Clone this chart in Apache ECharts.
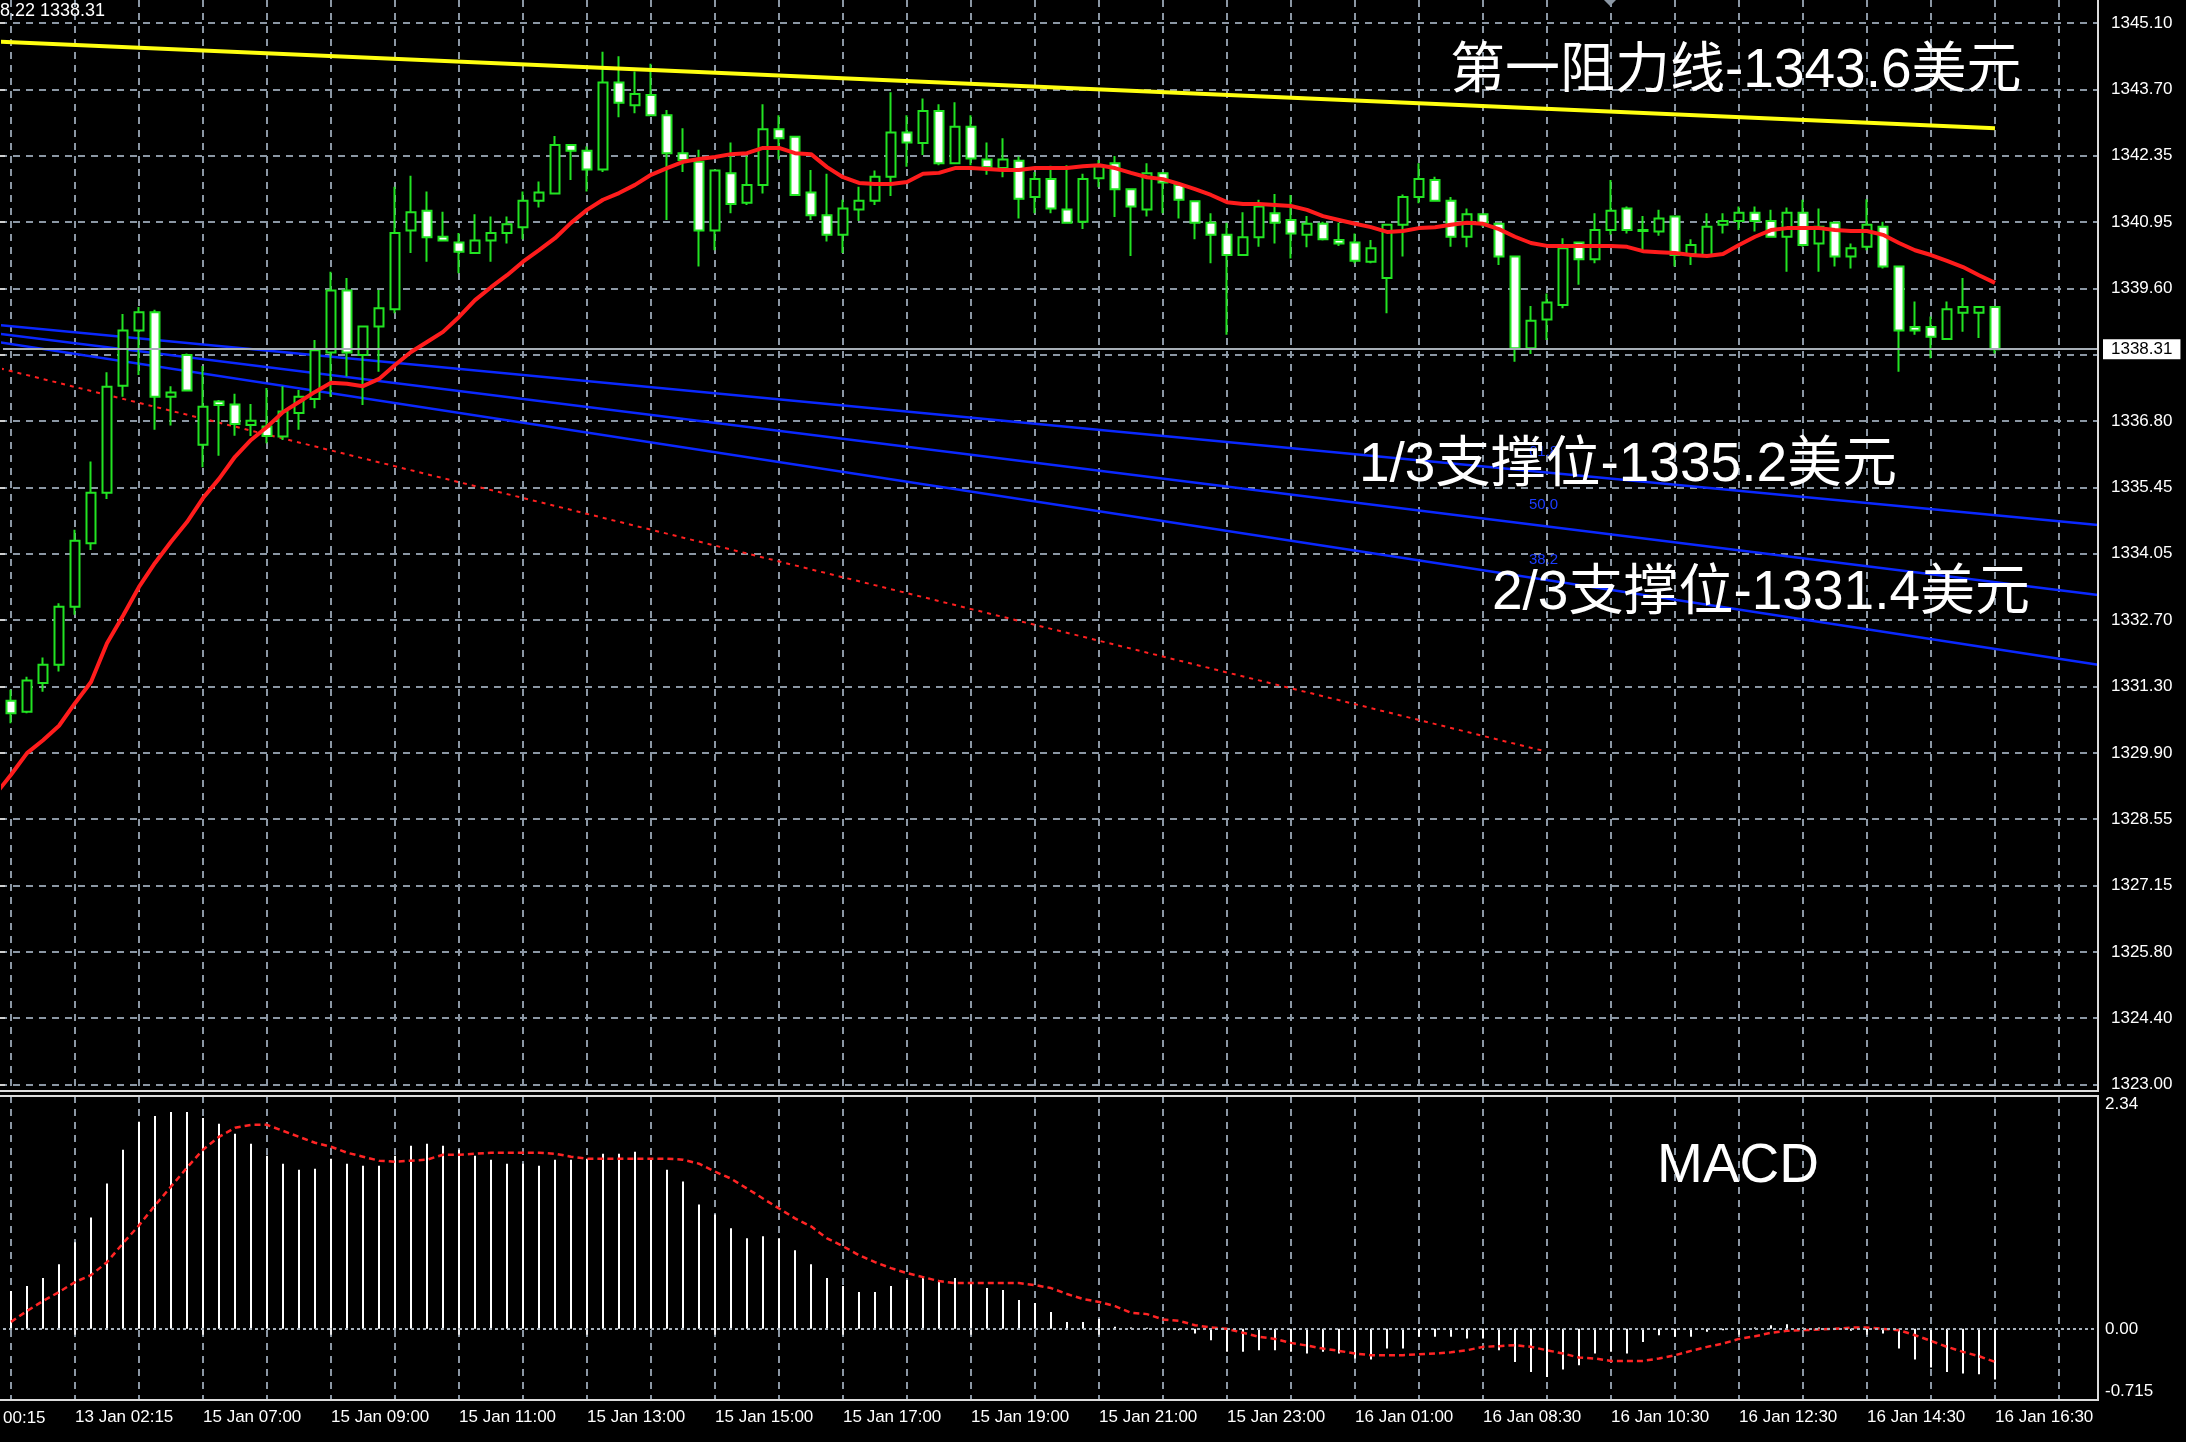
<!DOCTYPE html>
<html>
<head>
<meta charset="utf-8">
<script src="https://cdn.jsdelivr.net/npm/echarts@6/dist/echarts.min.js"></script>
<style>
html,body{margin:0;padding:0;background:#000;}
#chart{width:2186px;height:1442px;}
</style>
</head>
<body>
<div id="chart"></div>
<script>
// ---------- tick labels ----------
const timeLabels = ["13 Jan 02:15","15 Jan 07:00","15 Jan 09:00","15 Jan 11:00","15 Jan 13:00","15 Jan 15:00","15 Jan 17:00","15 Jan 19:00","15 Jan 21:00","15 Jan 23:00","16 Jan 01:00","16 Jan 08:30","16 Jan 10:30","16 Jan 12:30","16 Jan 14:30","16 Jan 16:30"];
const priceLabels = ["1323.00","1324.40","1325.80","1327.15","1328.55","1329.90","1331.30","1332.70","1334.05","1335.45","1336.80","","1339.60","1340.95","1342.35","1343.70","1345.10"];
const priceMin = 1323.00, priceMax = 1345.10;
const macdTickValues = [-0.715, 0, 2.34];
const macdTickLabels = ["-0.715", "0.00", "2.34"];
const lastPrice = 1338.31;

// ---------- candles (15-min bars) ----------
const opens = [
1330.99,1330.76,1331.36,1331.74,1332.95,1334.27,1335.32,1337.55,1338.70,1339.08,
1337.32,1338.19,1336.32,1337.22,1337.16,1336.73,1336.70,1336.49,1336.98,1337.27,
1338.24,1339.53,1338.19,1338.78,1339.14,1340.78,1341.19,1340.65,1340.53,1340.31,
1340.57,1340.73,1340.85,1341.40,1341.55,1342.56,1342.44,1342.05,1343.86,1343.39,
1343.60,1343.18,1342.39,1342.21,1340.78,1341.97,1341.36,1341.73,1342.89,1342.73,
1341.57,1341.10,1340.69,1341.22,1341.40,1341.90,1342.82,1342.60,1343.27,1342.18,
1342.94,1342.26,1342.08,1342.23,1341.48,1341.85,1341.22,1340.96,1341.87,1342.18,
1341.64,1341.22,1341.97,1341.73,1341.39,1340.94,1340.69,1340.27,1340.64,1341.14,
1341.00,1340.69,1340.92,1340.58,1340.53,1340.13,1339.79,1340.90,1341.48,1341.83,
1341.40,1340.65,1341.12,1340.92,1340.24,1338.33,1338.93,1339.23,1340.53,1340.18,
1340.79,1341.24,1340.79,1340.76,1341.07,1340.29,1340.27,1340.90,1340.98,1341.15,
1340.98,1340.65,1341.15,1340.51,1340.94,1340.24,1340.44,1340.86,1340.03,1338.77,
1338.77,1338.52,1339.07,1339.07,1339.19];
const highs = [
1331.22,1331.49,1331.89,1333.02,1334.55,1335.97,1337.83,1339.04,1339.19,1339.13,
1337.54,1338.22,1337.96,1337.25,1337.38,1337.17,1337.50,1337.54,1337.46,1338.50,
1339.92,1339.79,1338.78,1339.54,1341.69,1341.92,1341.59,1341.17,1340.73,1341.12,
1341.07,1341.07,1341.59,1341.80,1342.75,1342.56,1342.53,1344.50,1344.41,1344.09,
1344.25,1343.29,1342.91,1342.46,1342.05,1342.61,1342.33,1343.41,1343.18,1342.75,
1342.04,1341.96,1341.42,1341.69,1342.03,1343.66,1343.18,1343.53,1343.41,1343.45,
1343.18,1342.61,1342.70,1342.32,1342.00,1342.13,1342.14,1341.96,1342.25,1342.33,
1341.66,1342.18,1342.00,1341.78,1341.40,1341.14,1340.94,1341.16,1341.42,1341.54,
1341.52,1341.08,1340.96,1340.94,1340.72,1340.58,1340.92,1341.53,1342.18,1341.90,
1341.48,1341.24,1341.14,1340.94,1340.25,1339.21,1339.47,1340.62,1340.55,1341.14,
1341.83,1341.28,1341.08,1341.21,1341.08,1340.60,1341.14,1341.14,1341.28,1341.28,
1341.21,1341.26,1341.42,1341.24,1340.96,1340.51,1341.43,1340.96,1340.04,1339.30,
1338.99,1339.30,1339.79,1339.19,1339.19];
const lows = [
1330.52,1330.73,1331.18,1331.60,1332.78,1334.13,1335.19,1337.32,1337.77,1336.63,
1336.72,1337.43,1335.85,1336.09,1336.51,1336.50,1336.35,1336.42,1336.63,1337.08,
1337.32,1337.74,1337.15,1337.84,1339.06,1340.31,1340.13,1340.55,1339.89,1340.30,
1340.13,1340.51,1340.60,1341.26,1341.55,1341.83,1341.59,1342.00,1343.14,1343.22,
1343.18,1341.00,1342.00,1340.03,1340.37,1341.14,1341.31,1341.55,1342.26,1341.50,
1341.00,1340.55,1340.31,1340.98,1341.31,1341.50,1342.11,1342.35,1342.14,1342.16,
1342.14,1341.94,1341.89,1341.03,1341.14,1341.14,1340.94,1340.81,1341.68,1341.06,
1340.25,1341.07,1341.14,1341.03,1340.60,1340.10,1338.61,1340.26,1340.44,1340.51,
1340.20,1340.43,1340.57,1340.46,1340.10,1340.10,1339.06,1340.24,1341.35,1341.38,
1340.44,1340.43,1340.86,1340.06,1338.05,1338.21,1338.50,1339.16,1339.65,1340.10,
1340.69,1340.72,1340.32,1340.67,1340.03,1340.06,1340.24,1340.72,1340.79,1340.76,
1340.63,1339.92,1340.44,1339.92,1340.03,1339.99,1340.37,1339.99,1337.84,1338.61,
1338.12,1338.50,1338.67,1338.54,1338.22];
const closes = [
1330.73,1331.41,1331.74,1332.95,1334.32,1335.32,1337.53,1338.70,1339.08,1337.32,
1337.41,1337.45,1337.11,1337.15,1336.75,1336.82,1336.50,1337.01,1337.32,1338.29,
1339.53,1338.24,1338.78,1339.16,1340.73,1341.16,1340.64,1340.57,1340.34,1340.57,
1340.73,1340.91,1341.40,1341.57,1342.56,1342.44,1342.05,1343.86,1343.44,1343.62,
1343.18,1342.39,1342.25,1340.78,1342.03,1341.33,1341.73,1342.89,1342.70,1341.52,
1341.10,1340.69,1341.24,1341.40,1341.90,1342.82,1342.61,1343.27,1342.18,1342.94,
1342.28,1342.10,1342.26,1341.44,1341.85,1341.24,1340.94,1341.85,1342.12,1341.64,
1341.28,1341.97,1341.78,1341.42,1340.94,1340.69,1340.27,1340.64,1341.28,1340.94,
1340.72,1340.92,1340.60,1340.51,1340.15,1340.41,1340.90,1341.48,1341.85,1341.40,
1340.65,1341.12,1340.93,1340.24,1338.33,1338.90,1339.28,1340.41,1340.18,1340.79,
1341.19,1340.79,1340.77,1341.03,1340.27,1340.48,1340.86,1340.98,1341.15,1340.98,
1340.65,1341.15,1340.48,1340.86,1340.24,1340.41,1340.90,1340.03,1338.70,1338.70,
1338.57,1339.14,1339.19,1339.19,1338.31];

// ---------- moving average (red); first value belongs to the partly hidden bar before the first candle ----------
const maLead = 1329.03;
const maValues = [
1329.45,1329.90,1330.17,1330.47,1330.94,1331.38,1332.19,1332.76,1333.36,1333.86,
1334.30,1334.71,1335.21,1335.61,1336.07,1336.42,1336.69,1337.00,1337.21,1337.42,
1337.61,1337.59,1337.54,1337.69,1337.98,1338.25,1338.46,1338.67,1338.98,1339.33,
1339.60,1339.85,1340.13,1340.37,1340.62,1340.94,1341.21,1341.42,1341.56,1341.73,
1341.94,1342.08,1342.21,1342.27,1342.31,1342.37,1342.39,1342.50,1342.50,1342.39,
1342.37,1342.10,1341.89,1341.77,1341.75,1341.75,1341.79,1341.96,1341.98,1342.08,
1342.08,1342.06,1342.04,1342.04,1342.08,1342.08,1342.08,1342.12,1342.14,1342.08,
1341.98,1341.89,1341.85,1341.75,1341.64,1341.52,1341.37,1341.33,1341.33,1341.31,
1341.29,1341.21,1341.08,1341.00,1340.92,1340.85,1340.75,1340.77,1340.83,1340.85,
1340.90,1340.94,1340.92,1340.81,1340.65,1340.52,1340.46,1340.46,1340.46,1340.46,
1340.46,1340.44,1340.35,1340.33,1340.31,1340.27,1340.25,1340.29,1340.48,1340.65,
1340.79,1340.83,1340.83,1340.83,1340.79,1340.77,1340.77,1340.69,1340.52,1340.37,
1340.27,1340.15,1340.02,1339.85,1339.69];

// ---------- MACD ----------
const macdHist = [
0.38,0.43,0.51,0.65,0.87,1.12,1.46,1.80,2.08,2.14,
2.18,2.18,2.12,2.06,1.96,1.86,1.74,1.66,1.60,1.61,
1.71,1.66,1.64,1.64,1.74,1.84,1.86,1.84,1.80,1.74,
1.70,1.66,1.66,1.64,1.70,1.70,1.71,1.76,1.76,1.78,
1.70,1.60,1.48,1.25,1.15,1.01,0.91,0.93,0.91,0.79,
0.65,0.51,0.43,0.37,0.37,0.43,0.49,0.51,0.49,0.51,
0.45,0.41,0.39,0.29,0.26,0.17,0.07,0.07,0.10,
0.02,0.013,0.01,0.01,-0.013,-0.047,-0.114,-0.231,-0.231,-0.215,
-0.215,-0.231,-0.248,-0.231,-0.248,-0.298,-0.309,-0.198,-0.198,-0.080,
-0.080,-0.080,-0.097,-0.097,-0.215,-0.332,-0.433,-0.483,-0.409,-0.366,
-0.248,-0.231,-0.248,-0.131,-0.064,-0.080,-0.080,-0.030,-0.013,0.003,
0.013,0.037,0.047,0.013,0.013,-0.007,-0.020,-0.030,-0.047,-0.198,
-0.309,-0.389,-0.433,-0.449,-0.456,-0.510];
const macdSignal = [
0.07,0.18,0.28,0.37,0.47,0.54,0.67,0.86,1.04,1.24,
1.43,1.62,1.80,1.93,2.02,2.05,2.05,1.99,1.93,1.87,
1.83,1.77,1.73,1.69,1.68,1.69,1.70,1.75,1.75,1.76,
1.77,1.77,1.77,1.77,1.76,1.73,1.71,1.71,1.71,1.71,
1.71,1.71,1.70,1.66,1.58,1.51,1.41,1.31,1.21,1.11,
1.03,0.91,0.83,0.74,0.67,0.61,0.56,0.52,0.48,0.46,
0.46,0.46,0.46,0.46,0.44,0.41,0.35,0.30,0.27,
0.228,0.161,0.148,0.094,0.080,0.037,0.013,0.000,-0.040,-0.080,
-0.101,-0.141,-0.168,-0.198,-0.221,-0.248,-0.265,-0.265,-0.265,-0.255,
-0.248,-0.235,-0.215,-0.181,-0.174,-0.164,-0.181,-0.215,-0.248,-0.288,
-0.298,-0.322,-0.322,-0.322,-0.298,-0.265,-0.221,-0.181,-0.148,-0.101,
-0.074,-0.040,-0.020,-0.013,-0.007,0.000,0.013,0.013,0.000,-0.013,
-0.064,-0.121,-0.181,-0.231,-0.275,-0.332];

// ---------- trend lines: [bar position, price] endpoints ----------
const resistanceLine = [[-0.69, 1344.71], [124, 1342.91]];
const fib618Line = [[-0.69, 1338.81], [130.44, 1334.65]];
const fib500Line = [[-0.69, 1338.63], [130.44, 1333.19]];
const fib382Line = [[-0.69, 1338.45], [130.44, 1331.74]];
const redTrendLine = [[-0.69, 1337.91], [95.75, 1329.95]];

// ---------- build ----------
const SLOTS = 131;
const slots = [];
for (let i = 0; i < SLOTS; i++) slots.push(String(i));
const candleData = opens.map((o, i) => [o, closes[i], lows[i], highs[i]]);
const maPoints = [[-1, maLead]].concat(maValues.map((v, i) => [i, v]));
const labelSlot = (idx) => idx >= 4 && (idx - 4) % 8 === 0 && (idx - 4) / 8 < timeLabels.length;

const GRID_COLOR = '#8b97a4';
const gridDash = { color: GRID_COLOR, width: 2, type: [7, 6] };
const LATIN = '"Liberation Sans", Arial, sans-serif';
const BIGFONT = '55px "Liberation Sans", "Noto Sans CJK SC", sans-serif';

const chart = echarts.init(document.getElementById('chart'), null, { renderer: 'canvas' });
chart.setOption({
  backgroundColor: '#000000',
  animation: false,
  grid: [
    { left: 3, top: 23, width: 2096, height: 1061.6 },   // 0 price data
    { left: 11, top: 0, width: 2048, height: 1091 },     // 1 price vertical grid
    { left: 0, top: 23, width: 2098, height: 1061.6 },   // 2 price horizontal grid + labels
    { left: 3, top: 1096, width: 2096, height: 304 },    // 3 macd data
    { left: 11, top: 1096, width: 2048, height: 304 }    // 4 macd vertical grid
  ],
  xAxis: [
    { gridIndex: 0, type: 'category', data: slots, boundaryGap: true, show: false },
    { gridIndex: 0, type: 'value', min: -0.5, max: 130.5, show: false },
    { gridIndex: 1, type: 'value', min: 0, max: 128, interval: 4,
      axisLine: { show: false }, axisTick: { show: false }, axisLabel: { show: false },
      splitLine: { show: true, lineStyle: gridDash } },
    { gridIndex: 2, type: 'value', min: 0, max: 1, show: false },
    { gridIndex: 3, type: 'category', data: slots, boundaryGap: true, position: 'bottom',
      axisLine: { show: false },
      axisTick: { show: true, alignWithLabel: true, interval: labelSlot, length: 6, lineStyle: { color: '#e6e6e6', width: 2 } },
      axisLabel: { show: true, interval: labelSlot, align: 'left', margin: 9, color: '#ffffff', fontSize: 17, fontFamily: LATIN,
        formatter: (v, idx) => timeLabels[(idx - 4) / 8] || '' },
      splitLine: { show: false } },
    { gridIndex: 4, type: 'value', min: 0, max: 128, interval: 4,
      axisLine: { show: false }, axisTick: { show: false }, axisLabel: { show: false },
      splitLine: { show: true, lineStyle: gridDash } }
  ],
  yAxis: [
    { gridIndex: 0, type: 'value', min: priceMin, max: priceMax, show: false },
    { gridIndex: 1, type: 'value', min: 0, max: 1, show: false },
    { gridIndex: 2, type: 'value', min: 0, max: 16, interval: 1, position: 'right',
      axisLine: { show: false },
      axisTick: { show: true, length: 5, lineStyle: { color: '#d0d0d0', width: 2 } },
      axisLabel: { show: true, margin: 13, color: '#ffffff', fontSize: 17, fontFamily: LATIN,
        formatter: (v) => priceLabels[Math.round(v)] },
      splitLine: { show: true, lineStyle: gridDash } },
    { gridIndex: 3, type: 'value', min: -0.715, max: 2.34, position: 'right',
      axisLine: { show: false }, axisTick: { show: false }, splitLine: { show: false },
      axisLabel: { show: true, customValues: macdTickValues, margin: 6, color: '#ffffff', fontSize: 17, fontFamily: LATIN,
        verticalAlignMaxLabel: 'top', verticalAlignMinLabel: 'bottom',
        formatter: (v) => { const k = macdTickValues.indexOf(v); return k >= 0 ? macdTickLabels[k] : ''; } } },
    { gridIndex: 4, type: 'value', min: 0, max: 1, show: false }
  ],
  series: [
    { name: 'fib61.8', type: 'line', xAxisIndex: 1, yAxisIndex: 0, data: fib618Line, symbol: 'none', silent: true, z: 2,
      lineStyle: { color: '#0a28ff', width: 2.5 } },
    { name: 'fib50.0', type: 'line', xAxisIndex: 1, yAxisIndex: 0, data: fib500Line, symbol: 'none', silent: true, z: 2,
      lineStyle: { color: '#0a28ff', width: 2.5 } },
    { name: 'fib38.2', type: 'line', xAxisIndex: 1, yAxisIndex: 0, data: fib382Line, symbol: 'none', silent: true, z: 2,
      lineStyle: { color: '#0a28ff', width: 2.5 } },
    { name: 'trend', type: 'line', xAxisIndex: 1, yAxisIndex: 0, data: redTrendLine, symbol: 'none', silent: true, z: 2,
      lineStyle: { color: '#ff2020', width: 2, type: [4, 5] } },
    { name: 'price', type: 'candlestick', xAxisIndex: 0, yAxisIndex: 0, data: candleData, barWidth: 9, z: 3,
      itemStyle: { color: '#000000', color0: '#ffffff', borderColor: '#22e322', borderColor0: '#22e322', borderColorDoji: '#22e322', borderWidth: 2 },
      markLine: { silent: true, symbol: ['none', 'none'], animation: false,
        lineStyle: { color: '#a7afb7', width: 2, type: 'solid' },
        label: { show: true, position: 'end', formatter: () => lastPrice.toFixed(2), color: '#000000', backgroundColor: '#ffffff',
          padding: [2, 8, 1, 8], fontSize: 17, fontFamily: LATIN, distance: 4 },
        data: [{ yAxis: lastPrice }] } },
    { name: 'resistance', type: 'line', xAxisIndex: 1, yAxisIndex: 0, data: resistanceLine, symbol: 'none', silent: true, z: 4,
      lineStyle: { color: '#ffff10', width: 4 } },
    { name: 'MA', type: 'line', xAxisIndex: 1, yAxisIndex: 0, data: maPoints, symbol: 'none', silent: true, z: 5,
      lineStyle: { color: '#ff1c1c', width: 4 } },
    { name: 'MACD', type: 'bar', xAxisIndex: 4, yAxisIndex: 3, data: macdHist, barWidth: 2, silent: true, z: 2,
      itemStyle: { color: '#ffffff' },
      markLine: { silent: true, symbol: ['none', 'none'], animation: false,
        lineStyle: { color: '#a8b2bc', width: 2, type: [3, 3] }, label: { show: false },
        data: [{ yAxis: 0 }] } },
    { name: 'Signal', type: 'line', xAxisIndex: 4, yAxisIndex: 3, data: macdSignal, symbol: 'none', silent: true, z: 3,
      lineStyle: { color: '#ff2424', width: 2.5, type: [6, 4] } }
  ],
  graphic: [
    { type: 'polyline', silent: true, z: 50, shape: { points: [[0, 1091], [2098, 1091], [2098, 0]] },
      style: { stroke: '#dcdcdc', lineWidth: 2, fill: null } },
    { type: 'polyline', silent: true, z: 50, shape: { points: [[0, 1096], [2098, 1096], [2098, 1400], [0, 1400]] },
      style: { stroke: '#dcdcdc', lineWidth: 2, fill: null } },
    { type: 'polygon', silent: true, z: 50, shape: { points: [[1604, 0], [1616, 0], [1610, 6]] },
      style: { fill: '#8b97a4' } },
    { type: 'text', silent: true, z: 50, x: 0, y: 11,
      style: { text: '8.22 1338.31', fill: '#ffffff', font: '18px ' + LATIN, verticalAlign: 'middle' } },
    { type: 'text', silent: true, z: 50, x: 3, y: 1410,
      style: { text: '00:15', fill: '#ffffff', font: '17px ' + LATIN, verticalAlign: 'top' } },
    { type: 'text', silent: true, z: 50, x: 1529, y: 452,
      style: { text: '61.8', fill: '#1c3cff', font: '15px ' + LATIN, verticalAlign: 'middle' } },
    { type: 'text', silent: true, z: 50, x: 1529, y: 505,
      style: { text: '50.0', fill: '#1c3cff', font: '15px ' + LATIN, verticalAlign: 'middle' } },
    { type: 'text', silent: true, z: 50, x: 1529, y: 560,
      style: { text: '38.2', fill: '#1c3cff', font: '15px ' + LATIN, verticalAlign: 'middle' } },
    { type: 'text', silent: true, z: 60, x: 1450, y: 72,
      style: { text: '第一阻力线-1343.6美元', fill: '#ffffff', font: BIGFONT, verticalAlign: 'middle' } },
    { type: 'text', silent: true, z: 60, x: 1359, y: 466,
      style: { text: '1/3支撑位-1335.2美元', fill: '#ffffff', font: BIGFONT, verticalAlign: 'middle' } },
    { type: 'text', silent: true, z: 60, x: 1492, y: 594,
      style: { text: '2/3支撑位-1331.4美元', fill: '#ffffff', font: BIGFONT, verticalAlign: 'middle' } },
    { type: 'text', silent: true, z: 60, x: 1657, y: 1167,
      style: { text: 'MACD', fill: '#ffffff', font: '55px "Liberation Sans", Arial, sans-serif', verticalAlign: 'middle' } }
  ]
});
</script>
</body>
</html>
